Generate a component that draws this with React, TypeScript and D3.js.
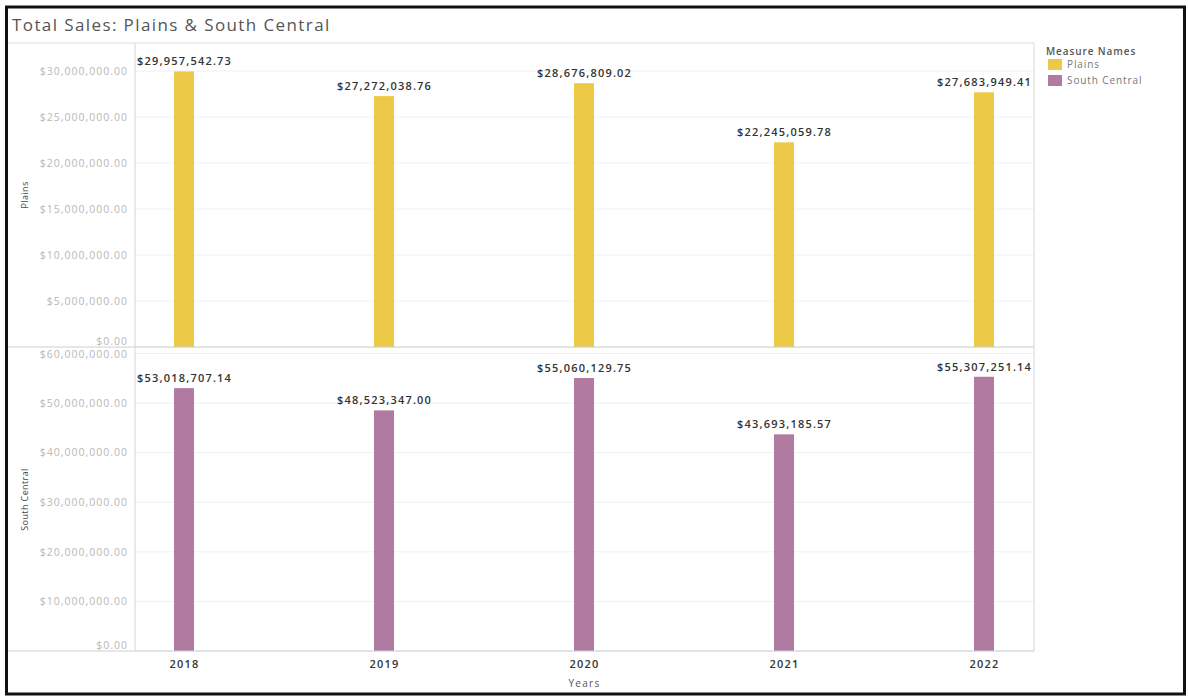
import React from "react";
import * as d3 from "d3";

const years = ["2018", "2019", "2020", "2021", "2022"];
const plainsValues = [29957542.73, 27272038.76, 28676809.02, 22245059.78, 27683949.41];
const southCentralValues = [53018707.14, 48523347.0, 55060129.75, 43693185.57, 55307251.14];
const plainsTicks = [0, 5000000, 10000000, 15000000, 20000000, 25000000, 30000000];
const southTicks = [0, 10000000, 20000000, 30000000, 40000000, 50000000, 60000000];
const legendItems = ["Plains", "South Central"];

const YELLOW = "#EDC948";
const PURPLE = "#B07AA1";
const FONT = "'Open Sans', 'Noto Sans', sans-serif";

const fmt = (v: number) => "$" + d3.format(",.2f")(v);

export default function App() {
  const W = 1188, H = 698;
  const plotL = 135, plotR = 1034;
  const titleLine = 43;
  const topPanel = { top: 43, bottom: 347 };
  const botPanel = { top: 348, bottom: 651 };

  const x = d3.scalePoint<string>().domain(years).range([184, 984]);
  const yTop = d3.scaleLinear().domain([0, 30000000]).range([topPanel.bottom, 71]);
  const yBot = d3.scaleLinear().domain([0, 60000000]).range([botPanel.bottom, 353.5]);
  const barW = 20;

  const panel = (
    vals: number[],
    y: d3.ScaleLinear<number, number>,
    ticks: number[],
    color: string,
    key: string,
    p: { top: number; bottom: number }
  ) => (
    <g key={key}>
      {ticks.map((t) => {
        const ly = Math.max(p.top + 6, Math.min(p.bottom - 6, y(t)));
        return (
          <g key={t}>
            <line x1={plotL} x2={plotR} y1={y(t)} y2={y(t)} stroke="#f0f0f0" strokeWidth={1} />
            <text x={128} y={ly} dy="0.35em" textAnchor="end" fontSize={10.5} letterSpacing={1} fill="#b8b8b8" fontFamily={FONT}>
              {fmt(t)}
            </text>
          </g>
        );
      })}
      {vals.map((v, i) => (
        <g key={i}>
          <rect x={(x(years[i]) as number) - barW / 2} y={y(v)} width={barW} height={y(0) - y(v)} fill={color} />
          <text x={(x(years[i]) as number) + 0.6} y={y(v) - 6} textAnchor="middle" fontSize={11} letterSpacing={1.2} fontWeight={600} fill="#333" fontFamily={FONT}>
            {fmt(v)}
          </text>
        </g>
      ))}
    </g>
  );

  return (
    <svg width={W} height={H} style={{ position: "absolute", left: 0, top: 0, background: "#fff" }}>
      <rect x={0} y={0} width={W} height={H} fill="#fff" />
      <text x={12} y={31} fontSize={17} letterSpacing={1.4} fill="#555" fontFamily={FONT}>
        Total Sales: Plains &amp; South Central
      </text>
      {panel(plainsValues, yTop, plainsTicks, YELLOW, "top", topPanel)}
      {panel(southCentralValues, yBot, southTicks, PURPLE, "bot", botPanel)}
      <line x1={8} x2={plotR} y1={titleLine} y2={titleLine} stroke="#dcdcdc" strokeWidth={1} />
      <line x1={8} x2={plotR} y1={topPanel.bottom} y2={topPanel.bottom} stroke="#cfcfcf" strokeWidth={1.2} />
      <line x1={8} x2={plotR} y1={botPanel.bottom} y2={botPanel.bottom} stroke="#cfcfcf" strokeWidth={1.2} />
      <line x1={plotL} x2={plotL} y1={titleLine} y2={botPanel.bottom} stroke="#d6d6d6" strokeWidth={1} />
      <line x1={plotR} x2={plotR} y1={titleLine} y2={botPanel.bottom} stroke="#d6d6d6" strokeWidth={1} />
      <text transform={`translate(28,${(topPanel.top + topPanel.bottom) / 2}) rotate(-90)`} textAnchor="middle" fontSize={9} letterSpacing={0.4} fill="#444" fontFamily={FONT}>
        Plains
      </text>
      <text transform={`translate(28,${(botPanel.top + botPanel.bottom) / 2}) rotate(-90)`} textAnchor="middle" fontSize={9} letterSpacing={0.4} fill="#444" fontFamily={FONT}>
        South Central
      </text>
      {years.map((yr) => (
        <text key={yr} x={(x(yr) as number) + 0.6} y={668} textAnchor="middle" fontSize={11} letterSpacing={1.2} fontWeight={600} fill="#333" fontFamily={FONT}>
          {yr}
        </text>
      ))}
      <text x={(plotL + plotR) / 2} y={687} textAnchor="middle" fontSize={10} letterSpacing={1.3} fill="#555" fontFamily={FONT}>
        Years
      </text>
      <text x={1046} y={55} fontSize={10} letterSpacing={0.9} fontWeight={600} fill="#555" fontFamily={FONT}>
        Measure Names
      </text>
      {legendItems.map((name, i) => (
        <g key={name}>
          <rect x={1048} y={59 + i * 16} width={14} height={11} fill={i === 0 ? YELLOW : PURPLE} />
          <text x={1067} y={68 + i * 16} fontSize={10} letterSpacing={0.9} fill="#777" fontFamily={FONT}>
            {name}
          </text>
        </g>
      ))}
      <rect x={6.5} y={7} width={1178} height={687} fill="none" stroke="#111" strokeWidth={3} />
    </svg>
  );
}
